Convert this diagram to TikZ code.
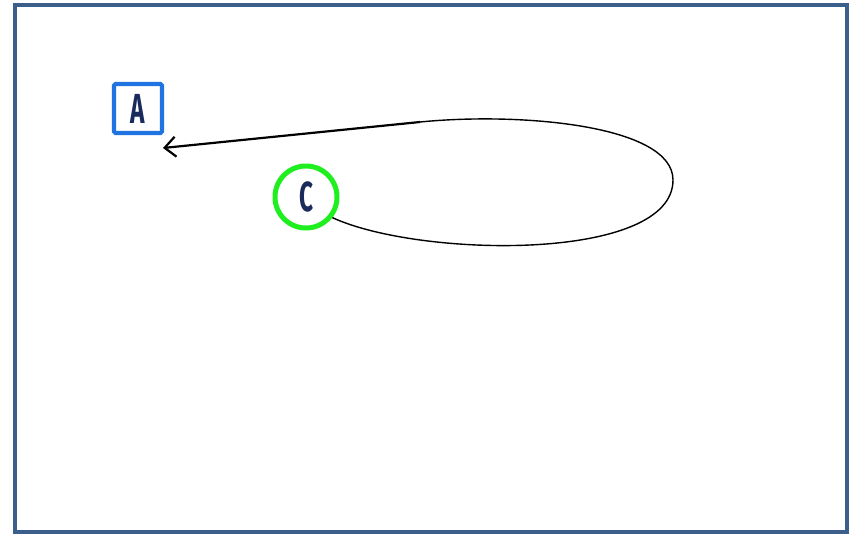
\documentclass[tikz,border=0pt]{standalone}
\usepackage{fontspec}
\setmainfont{Fira Sans}
\newfontfamily\labelfont[FakeStretch=0.58]{Fira Sans}
\usetikzlibrary{arrows.meta}
\definecolor{framec}{HTML}{3C5E8B}
\definecolor{boxblue}{HTML}{1F74E2}
\definecolor{ringgreen}{HTML}{1FEE1F}
\definecolor{inkc}{HTML}{1B2A5C}
\tikzset{
  lbl/.style={text=inkc, font=\labelfont\bfseries\fontsize{42}{42}\selectfont, inner sep=0pt},
  squarenode/.style={lbl, draw=boxblue, line width=4.2pt, rounded corners=1.5pt,
    minimum width=48pt, minimum height=49pt},
  ringnode/.style={lbl, draw=ringgreen, line width=5pt, circle, minimum size=62pt},
  loopline/.style={line width=1.4pt, black},
  leadline/.style={line width=2.2pt, black, -{Straight Barb[length=11pt,width=20pt,line width=2.2pt]}}
}
\begin{document}
\begin{tikzpicture}[x=1pt,y=-1pt]
  \useasboundingbox (0,0) rectangle (856,533);
  \draw[framec, line width=4.8pt] (15,5) rectangle (847,532);
  \node[squarenode] (A) at (138,108.5) {A};
  \node[ringnode] (C) at (306,197) {C};
  \coordinate (far) at (673,180);
  \coordinate (join) at (420,122);
  \coordinate (tip) at (163,148);
  \draw[loopline] (C.-38) .. controls (420,258) and (673,262) .. (far)
    .. controls (673,125) and (520,112) .. (join);
  \draw[leadline] (join) -- (tip);
\end{tikzpicture}
\end{document}
